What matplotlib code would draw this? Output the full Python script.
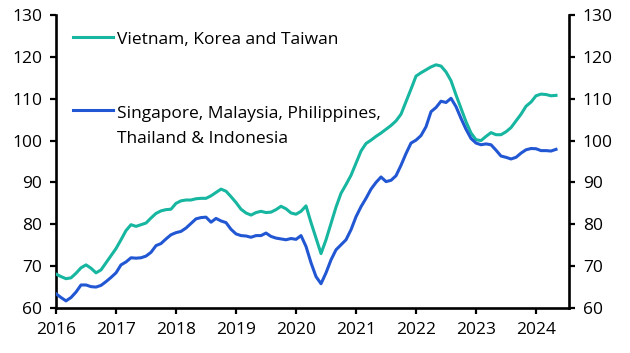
import numpy as np
import matplotlib
matplotlib.use("Agg")
import matplotlib.pyplot as plt
from matplotlib.lines import Line2D

# ---------------------------------------------------------------
#  DATA  (monthly, Jan 2016 - May 2024)
# ---------------------------------------------------------------
START_YEAR = 2016

vkt = [  # Vietnam, Korea and Taiwan
    68.1, 67.5, 67.0, 67.2, 68.3, 69.6, 70.3, 69.5, 68.4, 69.1, 70.8, 72.5,   # 2016
    74.2, 76.3, 78.5, 79.9, 79.5, 79.9, 80.3, 81.5, 82.6, 83.2, 83.5, 83.6,   # 2017
    85.0, 85.6, 85.8, 85.8, 86.1, 86.2, 86.2, 86.8, 87.6, 88.4, 87.9, 86.6,   # 2018
    85.2, 83.6, 82.7, 82.2, 82.8, 83.1, 82.8, 82.9, 83.5, 84.3, 83.7, 82.7,   # 2019
    82.4, 83.1, 84.4, 80.4, 76.7, 73.0, 76.3, 80.2, 84.1, 87.4, 89.5, 91.7,   # 2020
    94.6, 97.5, 99.3, 100.1, 101.0, 101.8, 102.7, 103.6, 104.7, 106.3, 109.3, 112.3,  # 2021
    115.4, 116.2, 116.9, 117.6, 118.1, 117.8, 116.4, 114.3, 110.9, 107.7, 104.5, 101.8,  # 2022
    100.2, 100.0, 101.0, 101.9, 101.4, 101.4, 102.1, 103.1, 104.7, 106.3, 108.2, 109.2,  # 2023
    110.7, 111.1, 111.0, 110.7, 110.8,                                        # 2024
]

smpti = [  # Singapore, Malaysia, Philippines, Thailand & Indonesia
    63.4, 62.5, 61.7, 62.5, 63.8, 65.5, 65.5, 65.1, 65.0, 65.4, 66.3, 67.3,   # 2016
    68.4, 70.3, 71.0, 72.0, 71.9, 72.0, 72.4, 73.3, 74.9, 75.4, 76.5, 77.5,   # 2017
    78.0, 78.3, 79.1, 80.2, 81.3, 81.6, 81.7, 80.5, 81.4, 80.8, 80.4, 78.8,   # 2018
    77.7, 77.3, 77.2, 76.9, 77.3, 77.3, 77.9, 77.1, 76.7, 76.5, 76.3, 76.6,   # 2019
    76.4, 77.3, 74.7, 70.8, 67.5, 65.8, 68.4, 71.5, 73.9, 75.1, 76.3, 78.7,   # 2020
    81.8, 84.2, 86.2, 88.4, 90.0, 91.3, 90.2, 90.5, 91.6, 94.1, 96.9, 99.4,   # 2021
    100.1, 101.2, 103.3, 106.9, 107.9, 109.4, 109.1, 110.1, 108.1, 105.3, 102.7, 100.5,  # 2022
    99.4, 99.0, 99.2, 99.0, 97.7, 96.3, 96.0, 95.6, 96.0, 97.0, 97.8, 98.1,   # 2023
    98.05, 97.6, 97.6, 97.5, 97.9,                                            # 2024
]

year_ticks = [2016, 2017, 2018, 2019, 2020, 2021, 2022, 2023, 2024]
value_ticks = [60, 70, 80, 90, 100, 110, 120, 130]

label_vkt = "Vietnam, Korea and Taiwan"
label_smpti = ["Singapore, Malaysia, Philippines,", "Thailand & Indonesia"]

# decimal-year position of each monthly observation
months = START_YEAR + np.arange(len(vkt)) / 12.0

# ---------------------------------------------------------------
#  STYLE
# ---------------------------------------------------------------
TEAL = "#17b6a0"
BLUE = "#2257d3"
FONT = "Open Sans"
FS = 12.5

plt.rcParams["font.family"] = [FONT, "DejaVu Sans"]
plt.rcParams["font.size"] = FS

fig = plt.figure(figsize=(6.3, 3.53), dpi=100)
ax = fig.add_axes([0.0889, 0.1275, 0.8143, 0.83])

ax.plot(months, vkt, color=TEAL, lw=2.2, solid_joinstyle="round", zorder=3)
ax.plot(months, smpti, color=BLUE, lw=2.2, solid_joinstyle="round", zorder=3)

ax.set_xlim(2016, 2024.55)
ax.set_ylim(60, 130)
ax.set_xticks(year_ticks)
ax.set_xticklabels([str(y) for y in year_ticks])
ax.set_yticks(value_ticks)

ax2 = ax.twinx()
ax2.set_ylim(60, 130)
ax2.set_yticks(value_ticks)

for a in (ax, ax2):
    a.spines["top"].set_visible(False)
    for s in ("left", "right", "bottom"):
        a.spines[s].set_linewidth(1.9)
    a.tick_params(axis="both", direction="out", length=4, width=1.6,
                  labelsize=FS, pad=6)
ax.spines["right"].set_visible(False)
ax2.spines["left"].set_visible(False)
ax2.spines["bottom"].set_visible(False)

# ---------------------------------------------------------------
#  LEGEND (drawn by hand so the handle sits on the first text line)
# ---------------------------------------------------------------
ax.add_line(Line2D([0.033, 0.111], [0.925, 0.925], transform=ax.transAxes,
                   color=TEAL, lw=2.2))
ax.text(0.119, 0.901, label_vkt, transform=ax.transAxes,
        ha="left", va="baseline", fontsize=FS)

ax.add_line(Line2D([0.033, 0.111], [0.676, 0.676], transform=ax.transAxes,
                   color=BLUE, lw=2.2))
ax.text(0.119, 0.647, label_smpti[0], transform=ax.transAxes,
        ha="left", va="baseline", fontsize=FS)
ax.text(0.119, 0.564, label_smpti[1], transform=ax.transAxes,
        ha="left", va="baseline", fontsize=FS)

fig.savefig("out.png", dpi=100)
